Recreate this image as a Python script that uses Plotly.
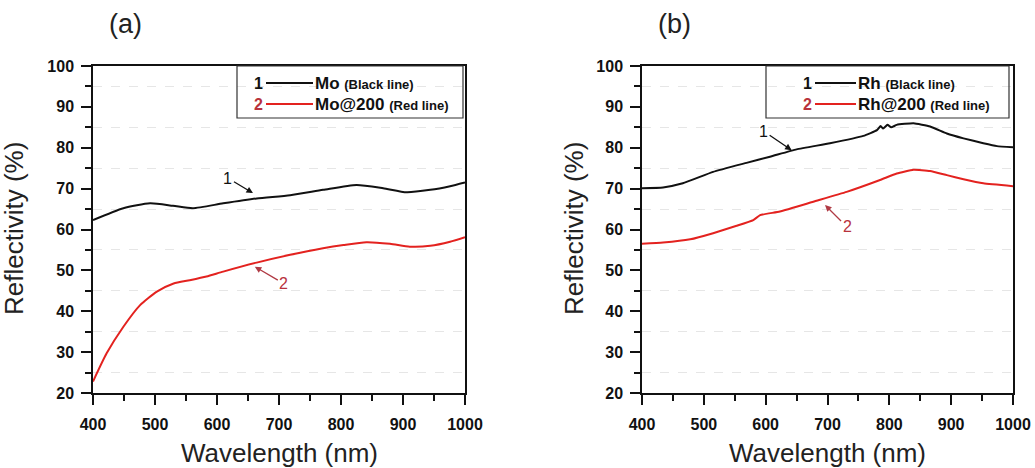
import plotly.graph_objects as go

# ---------------- data ----------------
mo_wl = [400, 449, 492, 529, 561, 610, 664, 718, 771, 825, 868, 906, 944, 976, 1000]
mo_r = [62.3, 65.2, 66.4, 65.8, 65.2, 66.4, 67.6, 68.4, 69.7, 70.9, 70.1, 69.1, 69.7, 70.6, 71.5]

mo200_wl = [400, 422, 449, 476, 503, 530, 556, 583, 610, 664, 718, 771, 804, 841, 879, 911, 944, 976, 1000]
mo200_r = [22.8, 29.7, 36.2, 41.5, 44.8, 46.8, 47.6, 48.5, 49.7, 51.9, 53.8, 55.4, 56.2, 56.9, 56.5, 55.8, 56.0, 57.0, 58.1]

rh_wl = [400, 434, 466, 515, 569, 607, 650, 704, 758, 780, 786, 790, 797, 803, 812, 839, 866, 893, 920, 952, 974, 1000]
rh_r = [70.1, 70.3, 71.3, 74.1, 76.3, 77.8, 79.6, 81.1, 82.9, 84.3, 85.3, 84.7, 85.6, 85.0, 85.6, 86.0, 85.2, 83.5, 82.3, 81.1, 80.4, 80.1]

rh200_wl = [400, 434, 478, 515, 553, 580, 591, 623, 677, 731, 785, 812, 839, 866, 893, 920, 952, 1000]
rh200_r = [56.5, 56.8, 57.6, 59.1, 60.9, 62.3, 63.5, 64.4, 66.8, 69.2, 72.1, 73.7, 74.6, 74.3, 73.3, 72.3, 71.3, 70.6]

x_ticks = [400, 500, 600, 700, 800, 900, 1000]
y_ticks = [20, 30, 40, 50, 60, 70, 80, 90, 100]
panel_labels = ["(a)", "(b)"]
legend_a = [("1", "Mo", "(Black line)"), ("2", "Mo@200", "(Red line)")]
legend_b = [("1", "Rh", "(Black line)"), ("2", "Rh@200", "(Red line)")]

BLACK = "#111111"
RED = "#e3221f"
LBL_RED = "#b8323c"
W, H = 1035, 468

def px(x):
    return x / W

def py(y):
    return 1 - y / H

fig = go.Figure()

dom_a = [px(93), px(465)]
dom_b = [px(642), px(1013)]
dom_y = [py(393), py(66)]

fig.add_trace(go.Scatter(x=mo_wl, y=mo_r, mode="lines", line=dict(color=BLACK, width=2, shape="spline", smoothing=0.6), xaxis="x", yaxis="y", showlegend=False))
fig.add_trace(go.Scatter(x=mo200_wl, y=mo200_r, mode="lines", line=dict(color=RED, width=2, shape="spline", smoothing=0.6), xaxis="x", yaxis="y", showlegend=False))
fig.add_trace(go.Scatter(x=rh_wl, y=rh_r, mode="lines", line=dict(color=BLACK, width=2, shape="spline", smoothing=0.4), xaxis="x2", yaxis="y2", showlegend=False))
fig.add_trace(go.Scatter(x=rh200_wl, y=rh200_r, mode="lines", line=dict(color=RED, width=2, shape="spline", smoothing=0.4), xaxis="x2", yaxis="y2", showlegend=False))

tickfont = dict(family="Liberation Sans, Arial", size=16, color="#111111", weight="bold")

def xax(domain, anchor):
    return dict(domain=domain, anchor=anchor, range=[400, 1000], tickmode="array",
                tickvals=x_ticks, ticktext=[str(v) for v in x_ticks],
                ticks="outside", ticklen=10, tickwidth=1.5, tickcolor="#111",
                minor=dict(tickvals=[450, 550, 650, 750, 850, 950], ticks="outside", ticklen=6, tickwidth=1.5, tickcolor="#111", showgrid=False),
                showline=True, linewidth=1.5, linecolor="#111", mirror=True, automargin=False,
                showgrid=False, zeroline=False, tickfont=tickfont, ticklabelstandoff=6)

def yax(domain, anchor):
    return dict(domain=domain, anchor=anchor, range=[20, 100], tickmode="array",
                tickvals=y_ticks, ticktext=[str(v) for v in y_ticks],
                ticks="outside", ticklen=10, tickwidth=1.5, tickcolor="#111",
                minor=dict(tickvals=[25, 35, 45, 55, 65, 75, 85, 95], ticks="outside", ticklen=6, tickwidth=1.5, tickcolor="#111",
                           showgrid=True, gridcolor="#e6e6e6", griddash="dash", gridwidth=1),
                showline=True, linewidth=1.5, linecolor="#111", mirror=True, automargin=False,
                showgrid=False, zeroline=False, tickfont=tickfont, ticklabelstandoff=4)

fig.update_layout(
    width=W, height=H, margin=dict(l=0, r=0, t=0, b=0, autoexpand=False),
    paper_bgcolor="white", plot_bgcolor="white",
    xaxis=xax(dom_a, "y"), yaxis=yax(dom_y, "x"),
    xaxis2=xax(dom_b, "y2"), yaxis2=yax(dom_y, "x2"),
    showlegend=False,
)

annotations = []
shapes = []
title_font = dict(family="Liberation Sans, Arial", size=26, color="#222")

ytitle_x = [14, 574]
for i, (dom, lbl) in enumerate([(dom_a, panel_labels[0]), (dom_b, panel_labels[1])]):
    xl = dom[0] * W
    xr = dom[1] * W
    xc = (xl + xr) / 2
    annotations.append(dict(text="Wavelength (nm)", x=px(xc), y=py(453), xref="paper", yref="paper",
                            showarrow=False, font=title_font, xanchor="center", yanchor="middle"))
    annotations.append(dict(text="Reflectivity (%)", x=px(ytitle_x[i]), y=py(229), xref="paper", yref="paper",
                            showarrow=False, font=title_font, textangle=-90, xanchor="center", yanchor="middle"))
    annotations.append(dict(text=lbl, x=px(xl + 32), y=py(24), xref="paper", yref="paper",
                            showarrow=False, font=dict(family="Liberation Sans, Arial", size=27, color="#222"),
                            xanchor="center", yanchor="middle"))

# legend boxes
leg_boxes = [(237, 463, legend_a, 262, 315), (766, 1009, legend_b, 811, 858)]
for (bx0, bx1, leg, numr, namex) in leg_boxes:
    shapes.append(dict(type="rect", xref="paper", yref="paper", x0=px(bx0), x1=px(bx1), y0=py(118), y1=py(66),
                       line=dict(color="#333", width=1.2), fillcolor="rgba(0,0,0,0)"))
    for j, (num, name, note) in enumerate(leg):
        yy = 83 if j == 0 else 104
        col = BLACK if j == 0 else RED
        ncol = BLACK if j == 0 else LBL_RED
        annotations.append(dict(text="<b>" + num + "</b>", x=px(numr + 3), y=py(yy), xref="paper", yref="paper", showarrow=False,
                                font=dict(family="Liberation Sans, Arial", size=16, color=ncol),
                                xanchor="right", yanchor="middle"))
        shapes.append(dict(type="line", xref="paper", yref="paper", x0=px(numr + 4), x1=px(namex - 2),
                           y0=py(yy), y1=py(yy), line=dict(color=col, width=2)))
        annotations.append(dict(text="<b>" + name + "</b> <b><span style='font-size:13px'>" + note + "</span></b>",
                                x=px(namex - 2), y=py(yy), xref="paper", yref="paper", showarrow=False,
                                font=dict(family="Liberation Sans, Arial", size=17, color="#111"),
                                xanchor="left", yanchor="middle"))

# curve pointer annotations
ptr = [
    ("x", "y", 658, 68.9, -25, -15, "1", BLACK, "#111"),
    ("x", "y", 661, 50.9, 29, 17, "2", LBL_RED, "#b03a44"),
    ("x2", "y2", 642, 79.4, -28, -19, "1", BLACK, "#111"),
    ("x2", "y2", 696, 66.0, 22, 22, "2", LBL_RED, "#b03a44"),
]
for (xr_, yr_, xv, yv, ax, ay, t, tc, ac) in ptr:
    annotations.append(dict(text=t, x=xv, y=yv, xref=xr_, yref=yr_, ax=ax, ay=ay, showarrow=True,
                            arrowhead=2, arrowsize=1, arrowwidth=1.3, arrowcolor=ac,
                            font=dict(family="Liberation Sans, Arial", size=16, color=tc)))

fig.update_layout(annotations=annotations, shapes=shapes)
fig.write_html("out.html")
